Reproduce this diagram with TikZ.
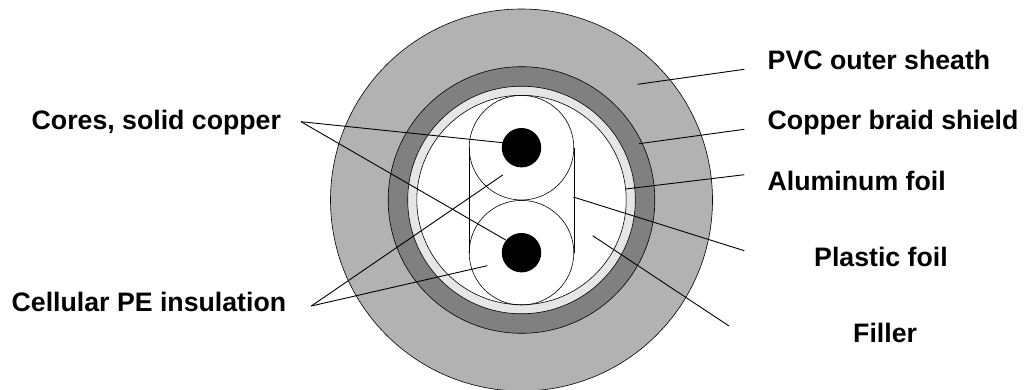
\documentclass[tikz,border=0pt]{standalone}
\usepackage{fontspec}
\setmainfont{Liberation Sans}
\usetikzlibrary{positioning}
\definecolor{grisSheath}{RGB}{178,178,178}
\definecolor{grisBraid}{RGB}{128,128,128}
\definecolor{grisFoil}{RGB}{230,230,230}
\tikzset{
  cb/layer/.style={draw=black, line width=0.6pt},
  cb/lead/.style={draw=black, line width=0.9pt},
  cb/lbl/.style={font=\fontsize{26.7}{30}\selectfont\bfseries, inner sep=0pt, anchor=base west}
}
\begin{document}
\begin{tikzpicture}[x=1pt, y=-1pt]
  \useasboundingbox (0,0) rectangle (1025,390);
  % cable layers, outside to inside
  \fill[cb/layer, fill=grisSheath] (521.5,200) circle[radius=191];
  \fill[cb/layer, fill=grisBraid]  (521.5,200) circle[radius=133.3];
  \fill[cb/layer, fill=grisFoil]   (521.5,200) circle[radius=113.8];
  \fill[cb/layer, fill=white]      (521.5,200) circle[radius=104.7];
  \draw[cb/layer] (521.5,147.7) circle[radius=52.3];
  \draw[cb/layer] (521.5,252.7) circle[radius=52.3];
  \draw[cb/layer] (469.2,147.7) -- (469.2,252.7);
  \draw[cb/layer] (573.8,147.7) -- (573.8,252.7);
  \fill[black] (521.5,147.7) circle[radius=19.7];
  \fill[black] (521.5,252.7) circle[radius=19.7];

  \node[cb/lbl] at (31.5,130)  (cores)   {Cores, solid copper};
  \node[cb/lbl] at (11.5,311.7) (cell)   {Cellular PE insulation};
  \node[cb/lbl] at (767.5,70)  (pvc)     {PVC outer sheath};
  \node[cb/lbl] at (767.5,130) (braid)   {Copper braid shield};
  \node[cb/lbl] at (767.5,190.7) (alu)   {Aluminum foil};
  \node[cb/lbl] at (814,266)   (plastic) {Plastic foil};
  \node[cb/lbl] at (853,342)   (filler)  {Filler};

  \coordinate (coresA)   at (301,121.7);
  \coordinate (cellA)    at (311.3,306);
  \coordinate (pvcA)     at (744.3,69.3);
  \coordinate (braidA)   at (744.3,129.3);
  \coordinate (aluA)     at (744.3,174.7);
  \coordinate (plasticA) at (744.3,250.7);
  \coordinate (fillerA)  at (729,326);

  \draw[cb/lead] (coresA) -- (502.7,142.7);
  \draw[cb/lead] (coresA) -- (505.7,240);
  \draw[cb/lead] (cellA)  -- (502.7,175);
  \draw[cb/lead] (cellA)  -- (487.3,265.7);
  \draw[cb/lead] (pvcA)     -- (637.7,84.3);
  \draw[cb/lead] (braidA)   -- (639,143.7);
  \draw[cb/lead] (aluA)     -- (625.7,189);
  \draw[cb/lead] (plasticA) -- (573.3,197);
  \draw[cb/lead] (fillerA)  -- (592.7,235.7);
\end{tikzpicture}
\end{document}
